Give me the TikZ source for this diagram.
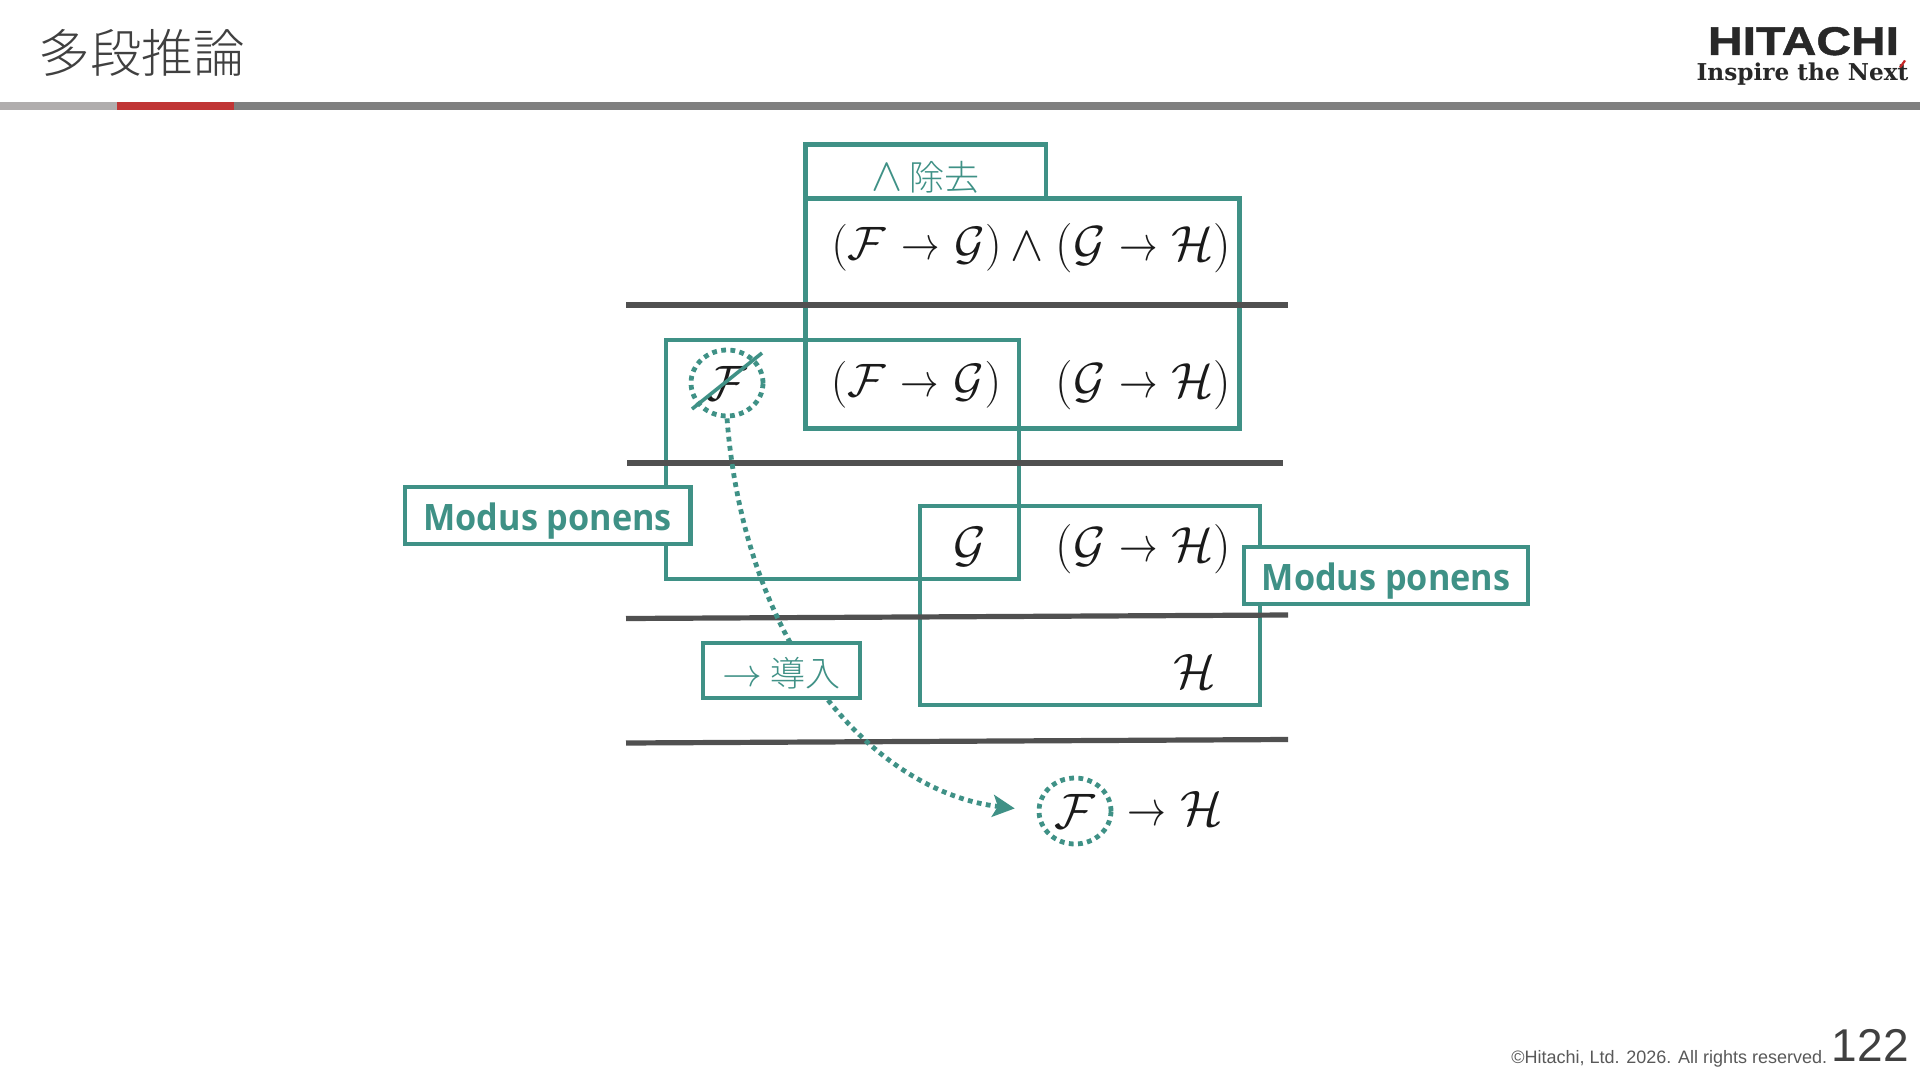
\documentclass[tikz,border=0pt]{standalone}
\usepackage{fontspec}
\usetikzlibrary{arrows.meta,shapes.geometric}
\setmainfont{Liberation Sans}
\newfontfamily\cjkfont{Noto Sans CJK JP}[UprightFont=* Light]
\newfontfamily\boldlabel{Open Sans}[FakeStretch=0.94]
\newfontfamily\logofont{Liberation Sans}[FakeStretch=1.2,BoldFeatures={FakeBold=1.2}]
\newfontfamily\logoserif{DejaVu Serif}
\definecolor{teal}{HTML}{3F9186}
\definecolor{ink}{HTML}{1A1A1A}
\definecolor{rulegray}{HTML}{505050}
\definecolor{titlegray}{HTML}{404040}
\tikzset{
  tbox/.style={draw=teal,line width=2.4pt,inner sep=0pt,line join=miter},
  wbox/.style={tbox,fill=white},
  rulebar/.style={draw=rulegray,line width=2.6pt},
  mathtxt/.style={text=ink,inner sep=0pt,font=\fontsize{20.74}{25}\selectfont},
  modus/.style={wbox,text=teal,font=\boldlabel\bfseries\fontsize{18.2}{22}\selectfont},
  cjklabel/.style={text=teal,font=\cjkfont\fontsize{17.5}{20}\selectfont},
  dotcirc/.style={ellipse,draw=teal,line width=2.4pt,dash pattern=on 2.4pt off 2.2pt,minimum width=36pt,minimum height=33pt,inner sep=0pt,text=ink,font=\fontsize{20.74}{25}\selectfont},
}
\newcommand{\impl}[2]{\scalebox{1.13}{$(\mathcal{#1}\mskip5.7mu\scalebox{0.82}[1]{$\to$}\mskip5.7mu\mathcal{#2})$}}
\newcommand{\implb}[2]{\scalebox{1.19}{$(\mathcal{#1}\mskip5mu\scalebox{0.78}[1]{$\to$}\mskip5mu\mathcal{#2})$}}
\newcommand{\single}[1]{\scalebox{1.2}{$\mathcal{#1}$}}
\begin{document}
\begin{tikzpicture}[x=0.5pt,y=-0.5pt]
\useasboundingbox (0,0) rectangle (1920,1080);
% header
\fill[fill=white] (0,0) rectangle (1920,1080);
\fill[fill={rgb,255:red,176;green,173;blue,173}] (0,102) rectangle (117,110);
\fill[fill={rgb,255:red,192;green,53;blue,53}] (117,102) rectangle (234,110);
\fill[fill={rgb,255:red,127;green,127;blue,127}] (234,102) rectangle (1920,110);
\node[anchor=west,inner sep=0pt,text=titlegray,font=\cjkfont\fontsize{25.8}{30}\selectfont] (title) at (38,53) {多段推論};
\node[anchor=base,inner sep=0pt,text={rgb,255:red,40;green,40;blue,40},font=\logofont\bfseries\fontsize{20}{24}\selectfont] (logoa) at (1803.5,55) {HITACHI};
\node[anchor=base,inner sep=0pt,text={rgb,255:red,40;green,40;blue,40},font=\logoserif\bfseries\fontsize{11.6}{14}\selectfont] (logob) at (1802.5,81) {Inspire the Next};
\fill[fill={rgb,255:red,200;green,40;blue,40}] (1899,67) -- (1904,60) -- (1906,61) -- (1901,68) -- cycle;
% boxes
\node[tbox,minimum width=217pt,minimum height=115pt] (bigb) at (1022.5,313.25) {};
\node[tbox,minimum width=120.25pt,minimum height=26.75pt] (elim) at (925.75,171.25) {};
\node[tbox,minimum width=176.5pt,minimum height=119.5pt] (boxc) at (842.5,459.5) {};
\node[tbox,minimum width=170pt,minimum height=99.5pt] (boxd) at (1090,605.5) {};
% rules
\draw[rulebar] (626,305) -- (1288,305);
\draw[rulebar] (627,463) -- (1283,463);
\draw[rulebar] (626,618.5) -- (1288,615);
\draw[rulebar] (626,743) -- (1288,739.5);
% elim label
\node[cjklabel] (elimt) at (925.5,177) {\scalebox{1.35}{\ensuremath{\wedge}} 除去};
% formulas
\node[mathtxt] (r1a) at (916.5,248) {\impl{F}{G}};
\node[mathtxt,font=\fontsize{24.88}{27}\selectfont] (r1w) at (1027,247) {$\wedge$};
\node[mathtxt] (r1b) at (1143.5,248) {\implb{G}{H}};
\node[mathtxt] (r2a) at (916,385) {\impl{F}{G}};
\node[mathtxt] (r2b) at (1143.5,385) {\implb{G}{H}};
\node[mathtxt] (r3a) at (970,547) {\single{G}};
\node[mathtxt] (r3b) at (1143.5,549) {\implb{G}{H}};
\node[mathtxt] (r4) at (1195,671) {\single{H}};
\node[mathtxt] (r5) at (1175.5,808) {\scalebox{1.2}{$\scalebox{0.78}[1]{$\to$}\mskip5mu\mathcal{H}$}};
% circles
\node[dotcirc] (c1) at (727,383) {\single{F}};
\node[dotcirc] (c2) at (1075,811) {\single{F}};
\coordinate (sa) at (692,409);
\coordinate (sb) at (762,353);
\draw[teal,line width=1.8pt] (sa) -- (sb);
% connector
\draw[teal,line width=2.4pt,dash pattern=on 2.4pt off 2.2pt,shorten >=11pt,-{Stealth[length=11pt,width=11pt,inset=2.5pt]}] (c1.south) .. controls (745,650) and (875,792) .. (c2.west);
% labels on top
\node[modus,minimum width=142.75pt,minimum height=28.5pt] (ml) at (547.75,515.5) {\raisebox{0pt}[14.8pt][0pt]{Modus ponens}};
\node[modus,minimum width=142pt,minimum height=28.5pt] (mr) at (1386,575.5) {\raisebox{0pt}[14.8pt][0pt]{Modus ponens}};
\node[wbox,minimum width=78.5pt,minimum height=27.5pt,text=teal,font=\cjkfont\fontsize{17.5}{20}\selectfont] (intro) at (781.5,670.5) {\raisebox{0pt}[16pt][0pt]{\scalebox{1.15}{\ensuremath{\to}} 導入}};
% footer
\node[anchor=base west,inner sep=0pt,text={rgb,255:red,89;green,89;blue,89},font=\fontsize{9}{11}\selectfont] (copy) at (1511,1063) {©Hitachi, Ltd. 2026. All rights reserved.};
\node[anchor=base east,inner sep=0pt,text={rgb,255:red,64;green,64;blue,64},font=\fontsize{23}{28}\selectfont] (pg) at (1909,1061) {122};
\end{tikzpicture}
\end{document}
